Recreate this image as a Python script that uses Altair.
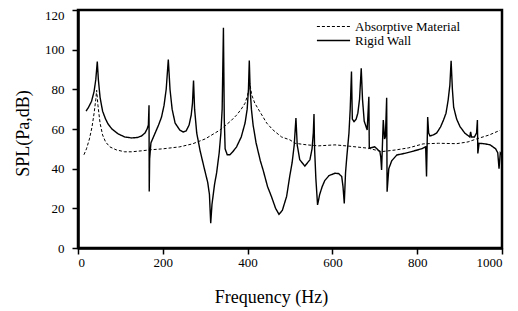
import altair as alt
import pandas as pd

series_names = ["Absorptive Material", "Rigid Wall"]

rigid_freq = [19, 25, 32, 38, 42, 45.5, 48, 52, 58, 65, 71, 80, 95, 110, 126, 140, 150, 158, 163, 166,
              167.5, 168, 169, 172, 180, 190, 197, 203, 208, 213, 217, 222, 229, 240, 248, 255, 262, 267,
              270, 272.5, 275, 280, 288, 298, 306, 310, 313, 316, 322, 327, 333, 337, 340, 343, 345, 347,
              352, 358, 365, 374, 385, 394, 399, 402, 404, 406, 409, 413, 420, 430, 437, 447, 457, 466,
              474, 482, 492, 500, 505, 510, 514, 517, 523, 535, 547, 552, 555, 556.6, 558, 561, 565, 570,
              576, 582, 592, 606, 615, 622, 625, 628, 631, 634, 639, 642, 645, 647, 651, 656, 660, 664,
              668, 671, 675, 682, 686, 687, 700, 712, 714, 716, 718, 720, 723, 725, 728, 729, 733, 740,
              752, 770, 790, 810, 820, 822, 824.7, 827, 830, 838, 846, 855, 862, 868, 873, 877, 880, 883,
              886, 893, 901, 912, 924, 926, 928, 935, 940, 942, 943, 946, 960, 972, 985, 990, 993, 996, 1000]
rigid_spl = [69, 71, 74, 79, 85, 94, 85, 76, 69, 65, 62.5, 60, 57.5, 56, 55.5, 55.7, 56.5, 58, 60, 62,
             72, 28.5, 45, 53, 57, 62, 66, 72, 80, 95, 80, 70, 63, 59.5, 58.5, 59, 62, 67,
             73, 84.5, 70, 58, 49, 40, 33, 27, 12.5, 22, 32, 38, 48, 58, 70, 111, 65, 50,
             47, 47, 48.5, 51, 56, 63, 70, 80, 94.5, 80, 70, 62, 53, 44, 39, 31, 25.5, 20,
             17, 19, 26, 37, 43, 52, 65.5, 52, 44.5, 41.3, 44.5, 50, 58, 67.5, 50, 35, 21.7, 27,
             31, 34, 36.5, 37.7, 37.5, 36, 31, 22.5, 38, 46, 57.8, 70, 89, 65, 63.7, 65, 68, 75,
             90.6, 75, 64, 59.5, 76.3, 50.3, 51, 48.6, 46, 39.3, 52, 64.5, 55, 56, 75.8, 28.4, 40, 44,
             46.9, 47.7, 48.8, 50, 51, 36, 66, 58, 56.5, 57, 58, 61, 64.5, 68, 74.6, 82, 94.4, 80,
             71, 65, 61.2, 58, 56, 58.6, 56, 56, 58, 64.5, 47.7, 52.8, 52.5, 52, 50, 48, 40, 48, 47]

absorb_freq = [14, 20, 27, 33, 38, 42, 44, 47, 52, 58, 65, 75, 90, 110, 126, 150, 170, 200, 240, 270,
               300, 335, 360, 374, 385, 394, 400, 405, 410, 417, 429, 445, 460, 480, 500, 512, 540, 567,
               606, 637, 685, 716, 748, 780, 814, 850, 893, 920, 940, 970, 995]
absorb_spl = [47, 50, 55, 61, 68, 75, 79.5, 72, 63, 57, 53.5, 51, 49.5, 48.5, 48.5, 49, 49.5, 50, 51, 52.5,
              55, 59.5, 64, 67, 70, 73, 77, 83, 77, 73, 68.7, 63, 59.5, 56, 54.5, 52.8, 52, 51.5,
              52, 51.4, 50.3, 48.6, 49.4, 50.5, 52.5, 52.8, 52.6, 53.5, 55, 57, 59.3]

x_ticks = [0, 200, 400, 600, 800, 1000]
y_ticks = [0, 20, 40, 60, 80, 100, 120]

df = pd.concat([
    pd.DataFrame({"freq": absorb_freq, "spl": absorb_spl, "series": series_names[0], "ord": range(len(absorb_freq))}),
    pd.DataFrame({"freq": rigid_freq, "spl": rigid_spl, "series": series_names[1], "ord": range(len(rigid_freq))}),
])

FONT = "Liberation Serif"

chart = alt.Chart(df).mark_line(color="black", clip=True).encode(
    x=alt.X("freq:Q", scale=alt.Scale(domain=[0, 1000], nice=False, zero=False),
            axis=alt.Axis(values=x_ticks, format="d", title="Frequency (Hz)", grid=False,
                          labelFont=FONT, titleFont=FONT,
                          titleX=193, titleY=54, titleAlign="center", titleBaseline="alphabetic",
                          titleAnchor="start", labelPadding=2)),
    y=alt.Y("spl:Q", scale=alt.Scale(domain=[0, 120], nice=False),
            axis=alt.Axis(values=y_ticks, format="d", title="SPL(Pa,dB)", grid=False,
                          labelFont=FONT, titleFont=FONT,
                          labelOffset={"condition": {"test": "datum.value >= 120", "value": 5}, "value": 0},
                          titleX=-50, titleY=123, titleAlign="center", titleBaseline="alphabetic",
                          titleAngle=270, titleAnchor="start", labelPadding=8)),
    detail="series:N",
    order="ord:Q",
    strokeDash=alt.StrokeDash("series:N",
                              scale=alt.Scale(domain=series_names, range=[[3, 2], [1, 0]]),
                              legend=alt.Legend(title=None, orient="none", legendX=238, legendY=10,
                                                symbolType="stroke", symbolSize=1100, symbolStrokeColor="black",
                                                symbolStrokeWidth=1, clipHeight=13, labelOffset=4,
                                                labelFont=FONT, labelFontSize=13, labelColor="black",
                                                rowPadding=0)),
    strokeWidth=alt.StrokeWidth("series:N", scale=alt.Scale(domain=series_names, range=[1, 1.4]), legend=None),
).properties(
    width=424, height=238,
    autosize=alt.AutoSizeParams(type="none"),
    padding={"left": 70, "top": 2, "right": 8, "bottom": 60},
).configure_view(
    stroke="black", strokeWidth=2.5
).configure_axis(
    domainColor="black", domainWidth=2.5, tickColor="black", tickWidth=1.5, tickSize=6,
    labelFont=FONT, labelFontSize=13, labelColor="black",
    titleFont=FONT, titleFontSize=18, titleFontWeight="normal", titleColor="black",
)

chart.save("out.html", embed_options={"renderer": "svg", "actions": False})
